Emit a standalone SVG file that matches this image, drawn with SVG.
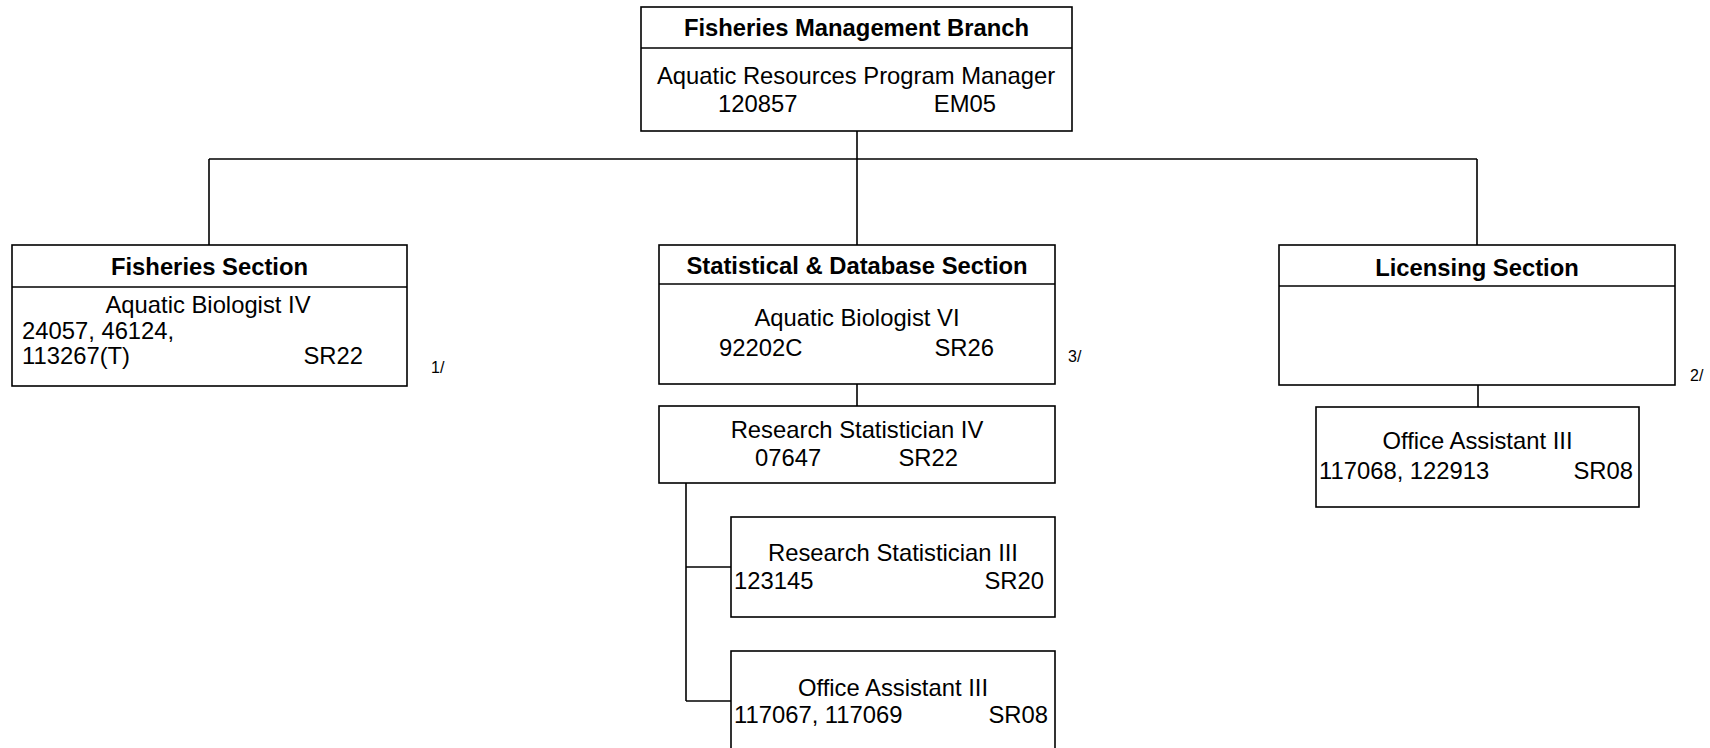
<svg xmlns="http://www.w3.org/2000/svg" width="1710" height="748" viewBox="0 0 1710 748">
<style>
.box{fill:#fff;stroke:#000;stroke-width:1.6}
.div{stroke:#000;stroke-width:1.6}
.conn line{stroke:#000;stroke-width:1.6}
text{font-family:"Liberation Sans",Arial,sans-serif;font-size:23.8px;fill:#000}
.b{font-weight:bold}
.m{text-anchor:middle}
.e{text-anchor:end}
.n{font-size:16px}
</style>
<rect width="1710" height="748" fill="#fff"/>
<g class="conn" id="connectors">
<line x1="857" y1="131" x2="857" y2="245"/>
<line x1="209" y1="159" x2="1477" y2="159"/>
<line x1="209" y1="159" x2="209" y2="245"/>
<line x1="1477" y1="159" x2="1477" y2="245"/>
<line x1="857" y1="384" x2="857" y2="406"/>
<line x1="1478" y1="385" x2="1478" y2="407"/>
<line x1="686" y1="483" x2="686" y2="701"/>
<line x1="686" y1="567" x2="731" y2="567"/>
<line x1="686" y1="701" x2="731" y2="701"/>
</g>
<g id="branch">
<rect class="box" x="641" y="7" width="431" height="124"/>
<line class="div" x1="641" y1="48" x2="1072" y2="48"/>
<text class="b m" x="856.5" y="36">Fisheries Management Branch</text>
<text class="m" x="856" y="84">Aquatic Resources Program Manager</text>
<text x="718" y="112">120857</text>
<text class="e" x="996" y="112">EM05</text>
</g>
<g id="fisheries">
<rect class="box" x="12" y="245" width="395" height="141"/>
<line class="div" x1="12" y1="287" x2="407" y2="287"/>
<text class="b m" x="209.5" y="275">Fisheries Section</text>
<text class="m" x="208" y="313">Aquatic Biologist IV</text>
<text x="22" y="339">24057, 46124,</text>
<text x="22" y="364">113267(T)</text>
<text class="e" x="363" y="364">SR22</text>
<text class="n" x="431" y="373">1/</text>
</g>
<g id="statistical">
<rect class="box" x="659" y="245" width="396" height="139"/>
<line class="div" x1="659" y1="284" x2="1055" y2="284"/>
<text class="b m" x="857" y="274">Statistical &amp; Database Section</text>
<text class="m" x="857" y="326">Aquatic Biologist VI</text>
<text x="719" y="356">92202C</text>
<text class="e" x="994" y="356">SR26</text>
<text class="n" x="1068" y="362">3/</text>
</g>
<g id="rs4">
<rect class="box" x="659" y="406" width="396" height="77"/>
<text class="m" x="857" y="438">Research Statistician IV</text>
<text x="755" y="466">07647</text>
<text class="e" x="958" y="466">SR22</text>
</g>
<g id="rs3">
<rect class="box" x="731" y="517" width="324" height="100"/>
<text class="m" x="893" y="561">Research Statistician III</text>
<text x="734" y="589">123145</text>
<text class="e" x="1044" y="589">SR20</text>
</g>
<g id="oa-stat">
<rect class="box" x="731" y="651" width="324" height="120"/>
<text class="m" x="893" y="696">Office Assistant III</text>
<text x="734" y="723">117067, 117069</text>
<text class="e" x="1048" y="723">SR08</text>
</g>
<g id="licensing">
<rect class="box" x="1279" y="245" width="396" height="140"/>
<line class="div" x1="1279" y1="286" x2="1675" y2="286"/>
<text class="b m" x="1477" y="276">Licensing Section</text>
<text class="n" x="1690" y="381">2/</text>
</g>
<g id="oa-lic">
<rect class="box" x="1316" y="407" width="323" height="100"/>
<text class="m" x="1477.5" y="449">Office Assistant III</text>
<text x="1319" y="479">117068, 122913</text>
<text class="e" x="1633" y="479">SR08</text>
</g>
</svg>
